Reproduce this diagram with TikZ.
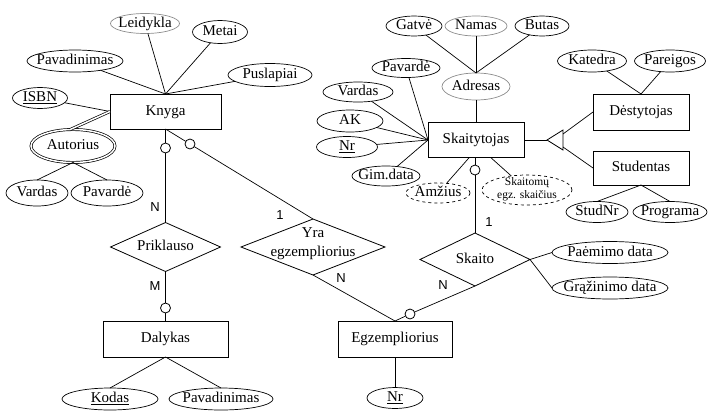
\documentclass[tikz,border=0pt]{standalone}
\usepackage{fontspec}
\setmainfont{Liberation Serif}
\newfontfamily\cardfont{Liberation Sans}
\usetikzlibrary{shapes.geometric}
\newcommand{\tx}[1]{\makebox[0pt]{#1}}
\begin{document}
\begin{tikzpicture}[x=1pt,y=-1pt,
  every node/.style={inner sep=0pt, outer sep=0pt},
  txt/.style={font=\fontsize{15}{18}\selectfont, text height=10pt, text depth=3pt},
  ent/.style={draw, rectangle, line width=0.8pt, txt},
  attr/.style={draw, ellipse, line width=0.7pt, txt},
  lite/.style={draw=black!45},
  rel/.style={draw, diamond, line width=0.8pt},
  oc/.style={draw, circle, fill=white, minimum size=10pt, line width=0.8pt},
  card/.style={font=\cardfont\fontsize{13}{15}\selectfont},
  ln/.style={line width=0.7pt},
]
\useasboundingbox (0,0) rectangle (708,410);

% ---------- Knyga ----------
\node[ent, minimum width=111pt, minimum height=35pt] (knyga) at (165.5,111.5) {Knyga};
\node[attr, lite, minimum width=69pt, minimum height=20pt] (leidykla) at (145,23.5) {\tx{Leidykla}};
\node[attr, minimum width=55pt, minimum height=23pt] (metai) at (220,32) {\tx{Metai}};
\node[attr, minimum width=96pt, minimum height=22pt] (pavad) at (75,61) {\tx{Pavadinimas}};
\node[attr, minimum width=84pt, minimum height=23pt] (puslap) at (270,75) {\tx{Puslapiai}};
\node[attr, minimum width=55pt, minimum height=21pt] (isbn) at (40,98) {\tx{\underline{ISBN}}};
\node[attr, double, double distance=1.5pt, minimum width=84pt, minimum height=33pt] (autorius) at (73,146) {\tx{Autorius}};
\node[attr, minimum width=62pt, minimum height=26pt] (vardasA) at (37,193) {\tx{Vardas}};
\node[attr, minimum width=72pt, minimum height=26pt] (pavardeA) at (107,193) {\tx{Pavardė}};

\draw[ln] (leidykla) -- (knyga.north);
\draw[ln] (metai) -- (knyga.north);
\draw[ln] (pavad) -- (knyga.north);
\draw[ln] (puslap) -- (knyga.north);
\draw[ln] (isbn) -- (knyga.west);
\draw[ln, double, double distance=1.5pt] (autorius.100) -- (knyga.west);
\draw[ln] (autorius.south) -- (vardasA.north);
\draw[ln] (autorius.south) -- (pavardeA.north);

% ---------- Priklauso / Dalykas ----------
\node[rel, minimum width=110pt, minimum height=49pt] (prikl) at (165.5,247) {};
\node[txt] (priklT) at (prikl.center) {Priklauso};
\node[ent, minimum width=125pt, minimum height=36pt] (dalykas) at (165.5,339) {Dalykas};
\node[attr, minimum width=96pt, minimum height=22pt] (kodas) at (110,399) {\tx{\underline{Kodas}}};
\node[attr, minimum width=104pt, minimum height=22pt] (pavadD) at (221,399) {\tx{Pavadinimas}};
\draw[ln] (dalykas.south) -- (kodas.north);
\draw[ln] (dalykas.south) -- (pavadD.north);

\node[oc] (c1) at (165.5,148) {};
\node[oc] (c2) at (165.5,308) {};
\draw[ln] (knyga.south) -- (c1);
\draw[ln] (c1) -- (prikl.north);
\draw[ln] (prikl.south) -- (c2);
\draw[ln] (c2) -- (dalykas.north);
\node[card] (n1) at (155,207) {N};
\node[card] (m1) at (155,286) {M};

% ---------- Yra egzempliorius ----------
\node[rel, minimum width=144pt, minimum height=56pt] (yra) at (313,247) {};
\node[font=\fontsize{15}{19}\selectfont, align=center] (yraT) at (313,244) {Yra\\egzempliorius};
\node[ent, minimum width=114pt, minimum height=36pt] (egz) at (395,339) {Egzempliorius};
\node[attr, minimum width=56pt, minimum height=21pt] (nrE) at (395,398) {\tx{\underline{Nr}}};
\draw[ln] (egz.south) -- (nrE.north);

\node[oc] (c3) at (190,144) {};
\draw[ln] (knyga.south) -- (c3);
\draw[ln] (c3) -- (yra.north);
\draw[ln] (yra.south) -- (egz.north);
\node[card] (one1) at (280,215) {1};
\node[card] (n2) at (341,278) {N};

% ---------- Skaitytojas ----------
\node[ent, minimum width=96pt, minimum height=35pt] (skait) at (476,140) {Skaitytojas};
\node[attr, lite, minimum width=68pt, minimum height=27pt] (adresas) at (476,86.5) {\tx{Adresas}};
\node[attr, minimum width=56pt, minimum height=20pt] (gatve) at (414,26) {\tx{Gatvė}};
\node[attr, lite, minimum width=62pt, minimum height=20pt] (namas) at (476,26) {\tx{Namas}};
\node[attr, minimum width=54pt, minimum height=20pt] (butas) at (542,26) {\tx{Butas}};
\draw[ln] (gatve) -- (adresas.north);
\draw[ln] (namas) -- (adresas.north);
\draw[ln] (butas) -- (adresas.north);
\draw[ln] (adresas) -- (skait.north);

\node[attr, minimum width=68pt, minimum height=19pt] (pavardeS) at (406,68) {\tx{Pavardė}};
\node[attr, minimum width=70pt, minimum height=20pt] (vardasS) at (358,92) {\tx{Vardas}};
\node[attr, minimum width=66pt, minimum height=22pt] (ak) at (350,121) {\tx{AK}};
\node[attr, minimum width=61pt, minimum height=21pt] (nrS) at (347,147) {\tx{\underline{Nr}}};
\node[attr, minimum width=68pt, minimum height=20pt] (gim) at (386,176) {\tx{Gim.data}};
\draw[ln] (pavardeS) -- (skait.west);
\draw[ln] (vardasS) -- (skait.west);
\draw[ln] (ak) -- (skait.west);
\draw[ln] (nrS) -- (skait.west);
\draw[ln] (gim) -- (skait.west);

\node[attr, dashed, minimum width=64pt, minimum height=20pt] (amz) at (438,193) {\tx{Amžius}};
\node[draw, ellipse, dashed, line width=0.7pt, minimum width=90pt, minimum height=30pt] (skegz) at (527,190) {};
\node[font=\fontsize{11.5}{12.5}\selectfont, align=center] (skegzT) at (527,189) {Skaitomų\\egz. skaičius};
\draw[ln] (amz) -- (skait.249);
\draw[ln] (skegz) -- (skait.310);

% ---------- Skaito ----------
\node[rel, minimum width=110pt, minimum height=53pt] (skaito) at (475,259.5) {};
\node[txt] (skaitoT) at (skaito.center) {Skaito};
\node[attr, minimum width=116pt, minimum height=22pt] (paem) at (610,252.5) {\tx{Paėmimo data}};
\node[attr, minimum width=116pt, minimum height=22pt] (graz) at (610,288) {\tx{Grąžinimo data}};
\draw[ln] (skaito.east) -- (paem.west);
\draw[ln] (skaito.east) -- (graz.west);

\node[oc] (c4) at (475,170) {};
\node[oc] (c5) at (410,314) {};
\draw[ln] (skait.south -| c4) -- (c4);
\draw[ln] (c4) -- (skaito.north);
\draw[ln] (skaito.south) -- (c5);
\draw[ln] (c5) -- (egz.north);
\node[card] (one2) at (489,222) {1};
\node[card] (n3) at (443,285) {N};

% ---------- Specialisation ----------
\node[ent, minimum width=96pt, minimum height=36pt] (dest) at (641,112) {Dėstytojas};
\node[ent, minimum width=96pt, minimum height=34pt] (stud) at (641,168) {Studentas};
\node[attr, minimum width=69pt, minimum height=22pt] (katedra) at (592,61) {\tx{Katedra}};
\node[attr, minimum width=71pt, minimum height=22pt] (pareigos) at (670,61) {\tx{Pareigos}};
\node[attr, minimum width=62pt, minimum height=21pt] (studnr) at (597,212) {\tx{StudNr}};
\node[attr, minimum width=74pt, minimum height=21pt] (programa) at (670,212) {\tx{Programa}};
\draw[ln] (katedra) -- (dest.north);
\draw[ln] (pareigos) -- (dest.north);
\draw[ln] (stud.south) -- (studnr.north);
\draw[ln] (stud.south) -- (programa.north);

\coordinate (tip) at (547,140);
\coordinate (bt) at (563,130);
\coordinate (bb) at (563,150);
\coordinate (bt2) at (563,134);
\coordinate (bb2) at (563,147);
\draw[ln, line width=0.8pt] (tip) -- (bt) -- (bb) -- cycle;
\draw[ln] (skait.east) -- (tip);
\draw[ln] (bt2) -- (dest.west);
\draw[ln] (bb2) -- (stud.west);
\end{tikzpicture}
\end{document}
